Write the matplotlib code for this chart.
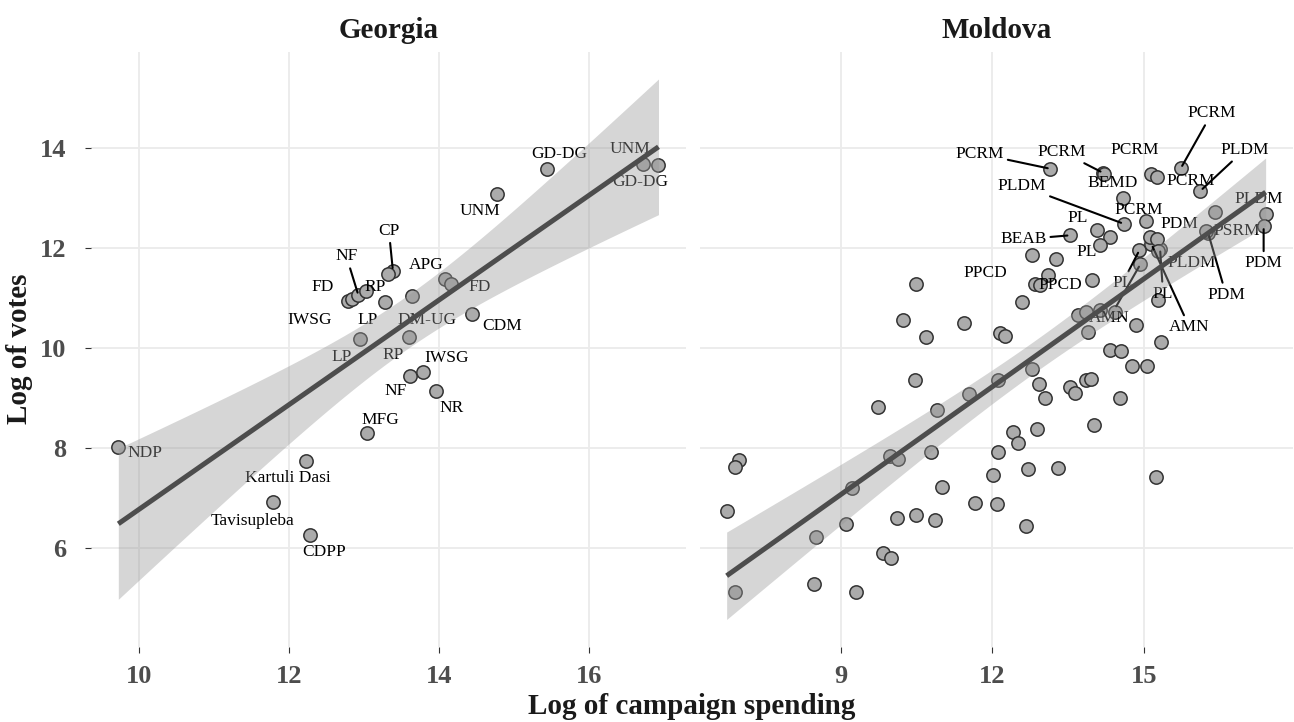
import math
import numpy as np
import matplotlib
matplotlib.use("Agg")
import matplotlib.pyplot as plt

# ---------------- data ----------------
georgia_party = ["NDP", "Kartuli Dasi", "Tavisupleba", "CDPP", "MFG", "LP", "NF", "IWSG",
                 "NR", "CDM", "RP", "DM-UG", "LP", "IWSG", "FD", "NF", "RP", "CP", "",
                 "APG", "FD", "UNM", "GD-DG", "UNM", "GD-DG"]
georgia_spending = [9.72, 12.22, 11.78, 12.28, 13.04, 12.94, 13.61, 13.78, 13.96, 14.44,
                    13.60, 13.64, 13.28, 12.78, 12.83, 12.92, 13.02, 13.38, 13.32, 14.07,
                    14.16, 14.77, 15.43, 16.72, 16.92]
georgia_votes = [8.03, 7.75, 6.92, 6.26, 8.31, 10.19, 9.45, 9.53, 9.14, 10.69,
                 10.23, 11.04, 10.92, 10.94, 10.99, 11.06, 11.14, 11.55, 11.49, 11.39,
                 11.29, 13.09, 13.59, 13.69, 13.67]

moldova_party = ["PCRM", "PCRM", "BEMD", "PCRM", "PCRM", "PCRM", "PLDM", "PCRM", "PLDM", "PDM",
                 "BEAB", "PL", "", "PL", "", "", "", "PPCD", "PPCD", "",
                 "", "", "", "", "", "", "", "", "", "",
                 "", "", "", "", "", "", "", "", "", "",
                 "", "", "", "", "", "", "", "", "", "",
                 "", "", "", "", "", "", "", "", "", "",
                 "", "", "", "", "", "", "", "", "", "",
                 "", "", "", "", "", "", "", "", "", "",
                 "", "PL", "AMN", "PL", "", "", "PLDM", "AMN", "", "PDM",
                 "PSRM", "", "PLDM", "PDM"]
moldova_spending = [13.15, 14.19, 14.21, 15.15, 15.26, 15.73, 16.12, 14.58, 14.60, 15.05,
                    13.54, 14.08, 14.33, 14.13, 12.78, 13.26, 13.11, 12.84, 12.94, 13.98,
                    12.58, 11.43, 10.49, 10.23, 10.69, 12.15, 12.25, 13.70, 13.85, 14.13,
                    14.43, 13.90, 14.84, 15.34, 14.33, 14.54, 14.76, 15.07, 12.78, 12.93,
                    13.04, 13.54, 13.64, 13.85, 13.96, 14.53, 12.12, 12.41, 12.51, 12.88,
                    14.01, 12.12, 12.01, 12.71, 13.30, 15.24, 12.09, 12.67, 11.66, 10.47,
                    9.74, 10.90, 11.53, 6.99, 6.90, 6.74, 9.97, 10.14, 10.78, 11.00,
                    9.22, 10.12, 10.49, 10.87, 9.10, 8.51, 9.83, 9.99, 8.47, 9.30,
                    6.90, 14.91, 15.15, 15.32, 15.12, 15.26, 15.28, 14.93, 15.28, 16.27,
                    16.23, 16.40, 17.41, 17.37]
moldova_votes = [13.59, 13.51, 13.48, 13.49, 13.43, 13.60, 13.15, 13.01, 12.49, 12.55,
                 12.26, 12.37, 12.23, 12.07, 11.86, 11.79, 11.46, 11.29, 11.27, 11.36,
                 10.92, 10.51, 11.28, 10.57, 10.23, 10.31, 10.24, 10.66, 10.73, 10.76,
                 10.73, 10.33, 10.46, 10.13, 9.97, 9.95, 9.65, 9.65, 9.58, 9.29,
                 9.01, 9.23, 9.11, 9.36, 9.39, 9.01, 9.36, 8.33, 8.11, 8.38,
                 8.47, 7.93, 7.47, 7.59, 7.61, 7.43, 6.89, 6.44, 6.91, 9.36,
                 8.83, 8.77, 9.08, 7.77, 7.63, 6.75, 7.85, 7.79, 7.93, 7.22,
                 7.21, 6.61, 6.66, 6.57, 6.49, 6.23, 5.91, 5.81, 5.29, 5.12,
                 5.13, 11.96, 12.08, 11.99, 12.23, 12.18, 11.94, 11.68, 10.96, 12.31,
                 12.34, 12.73, 12.69, 12.44]

georgia_xticks = [10, 12, 14, 16]
moldova_xticks = [9, 12, 15]
y_ticks = [6, 8, 10, 12, 14]

# label placement (offset in pixels from the point) and leader-line flags
georgia_offsets = [(27, -6), (-18, -17), (-20, -19), (14, -17), (13, 13), (-18, -18),
                   (-15, -15), (24, 14), (15, -17), (30, -12), (-16, -18), (15, -24),
                   (-18, -18), (-38, -19), (-29, 12), (-12, 39), (9, 4), (-4, 40), None,
                   (-18, 14), (28, -3), (-17, -17), (13, 15), (-14, 15), (-18, -17)]
georgia_leaders = {15, 17}

moldova_offsets = {0: (-71, 15), 1: (-41, 21), 2: (9, -9), 3: (-17, 24), 4: (34, -4),
                   5: (31, 55), 6: (44, 41), 7: (16, -12), 8: (-102, 38), 9: (33, -3),
                   10: (-47, -4), 11: (-20, 12), 13: (-13, -7), 17: (-49, 11), 18: (20, 0),
                   81: (-17, -33), 82: (38, -83), 83: (3, -45), 86: (34, -12),
                   87: (-31, -54), 89: (18, -62), 90: (31, 0), 92: (-7, 15), 93: (0, -37)}
moldova_leaders = {0, 1, 5, 6, 8, 10, 81, 82, 83, 87, 89, 93}

# ---------------- helpers ----------------
def t_quantile(p, df):
    xs = np.linspace(0, 12, 120001)
    c = math.exp(math.lgamma((df + 1) / 2) - math.lgamma(df / 2)) / math.sqrt(df * math.pi)
    pdf = c * (1 + xs ** 2 / df) ** (-(df + 1) / 2)
    cum = np.concatenate([[0], np.cumsum((pdf[1:] + pdf[:-1]) / 2 * np.diff(xs))])
    return float(np.interp(p - 0.5, cum, xs))


def linear_fit(x, y, n_grid=80):
    x = np.asarray(x, float)
    y = np.asarray(y, float)
    n = len(x)
    b, a = np.polyfit(x, y, 1)
    resid = y - (a + b * x)
    s = math.sqrt(np.sum(resid ** 2) / (n - 2))
    xbar = x.mean()
    sxx = np.sum((x - xbar) ** 2)
    grid = np.linspace(x.min(), x.max(), n_grid)
    fit = a + b * grid
    se = s * np.sqrt(1 / n + (grid - xbar) ** 2 / sxx)
    t = t_quantile(0.975, n - 2)
    return grid, fit, fit - t * se, fit + t * se


def expand(lo, hi, f=0.05):
    r = hi - lo
    return lo - f * r, hi + f * r


# ---------------- style ----------------
SERIF = ["Liberation Serif", "DejaVu Serif"]
plt.rcParams["font.family"] = SERIF
TICK_COL = "#4D4D4D"
TITLE_COL = "#1A1A1A"
GRID_COL = "#EBEBEB"

W, H = 1294, 722
fig = plt.figure(figsize=(W / 100, H / 100), dpi=100)
fig.patch.set_facecolor("white")

panel_top, panel_bottom = 52, 646.5
panels = [
    ("Georgia", georgia_party, georgia_spending, georgia_votes, georgia_xticks,
     (91.3, 685.5)),
    ("Moldova", moldova_party, moldova_spending, moldova_votes, moldova_xticks,
     (699.7, 1292.6)),
]

fits = [linear_fit(p[2], p[3]) for p in panels]
ylo = min(min(min(p[3]) for p in panels), min(f[2].min() for f in fits))
yhi = max(max(max(p[3]) for p in panels), max(f[3].max() for f in fits))
ylim = expand(ylo, yhi)

for k, (name, party, xs, ys, xticks, (left_px, right_px)) in enumerate(panels):
    ax = fig.add_axes([left_px / W, 1 - panel_bottom / H,
                       (right_px - left_px) / W, (panel_bottom - panel_top) / H])
    ax.set_xlim(*expand(min(xs), max(xs)))
    ax.set_ylim(*ylim)
    ax.set_xticks(xticks)
    ax.set_yticks(y_ticks)
    ax.grid(True, color=GRID_COL, linewidth=1.3, zorder=0)
    ax.set_axisbelow(True)
    for sp in ax.spines.values():
        sp.set_visible(False)
    ax.tick_params(axis="x", length=4, width=0.8, color="#333333", pad=9,
                   labelsize=19, labelcolor=TICK_COL)
    ax.tick_params(axis="y", length=4, width=0.8, color="#333333", pad=14,
                   labelsize=19, labelcolor=TICK_COL)
    for lab in ax.get_xticklabels() + ax.get_yticklabels():
        lab.set_fontweight("bold")
    if k == 1:
        ax.tick_params(axis="y", left=False, labelleft=False)
    ax.set_title(name, fontsize=21, fontweight="bold", color=TITLE_COL, pad=10)

    # points
    ax.scatter(xs, ys, s=92, facecolor="#ABABAB", edgecolor="#333333",
               linewidth=1.1, zorder=2)

    # labels
    leaders = georgia_leaders if k == 0 else moldova_leaders
    for i, lab in enumerate(party):
        if not lab:
            continue
        off = georgia_offsets[i] if k == 0 else moldova_offsets.get(i)
        if off is None:
            continue
        arrow = None
        if i in leaders:
            arrow = dict(arrowstyle="-", color="black", lw=1.5, shrinkA=1, shrinkB=2)
        ax.annotate(lab, xy=(xs[i], ys[i]), xytext=off, textcoords="offset pixels",
                    ha="center", va="center", fontsize=12.5, color="black",
                    arrowprops=arrow, zorder=3)

    # fitted line with confidence band on top
    grid, fit, lo, hi = fits[k]
    ax.fill_between(grid, lo, hi, color="#999999", alpha=0.4, linewidth=0, zorder=4)
    ax.plot(grid, fit, color="#4D4D4D", linewidth=3.6, zorder=5, solid_capstyle="butt")

fig.text((91.3 + 1292.6) / 2 / W, 1 - 707 / H, "Log of campaign spending",
         ha="center", va="center", fontsize=21, fontweight="bold", color=TITLE_COL)
fig.text(20 / W, 1 - ((panel_top + panel_bottom) / 2) / H, "Log of votes",
         ha="center", va="center", rotation=90, fontsize=21, fontweight="bold",
         color=TITLE_COL)

fig.savefig("out.png", dpi=100, facecolor="white")
